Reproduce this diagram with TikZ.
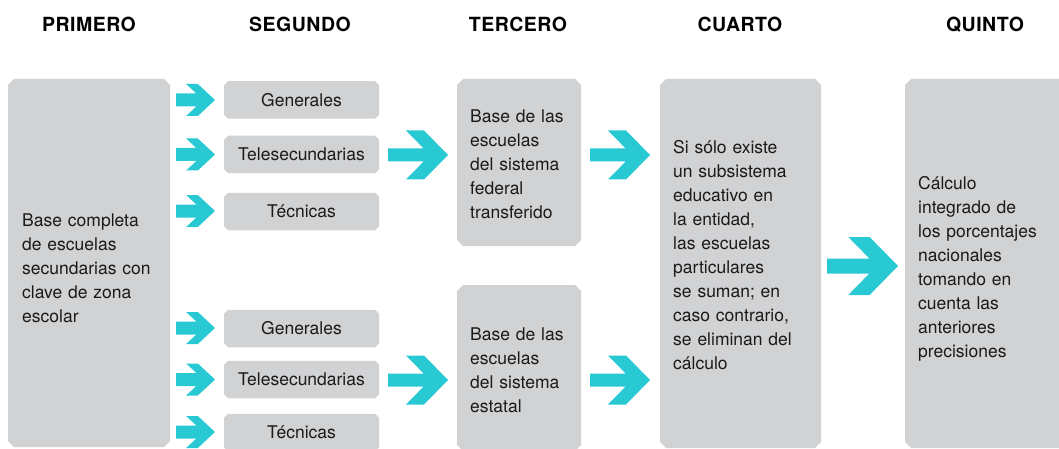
\documentclass[tikz,border=0pt]{standalone}
\usepackage{fontspec}
\setmainfont{TeX Gyre Heros}
\newfontfamily\hdrfont[LetterSpace=2.5]{TeX Gyre Heros}
\definecolor{boxgray}{HTML}{D1D2D4}
\definecolor{arrowc}{HTML}{28C9D3}
\definecolor{txt}{HTML}{1A1A1A}
\tikzset{
  chamf/.style={rectangle, draw=none, inner sep=0pt, outer sep=0pt,
    path picture={
      \fill[boxgray]
        ([xshift=#1]path picture bounding box.north west) --
        ([xshift=-#1]path picture bounding box.north east) --
        ([yshift=-#1]path picture bounding box.north east) --
        ([yshift=#1]path picture bounding box.south east) --
        ([xshift=-#1]path picture bounding box.south east) --
        ([xshift=#1]path picture bounding box.south west) --
        ([yshift=#1]path picture bounding box.south west) --
        ([yshift=-#1]path picture bounding box.north west) -- cycle;}},
  gbox/.style={chamf=6pt},
  sbox/.style={chamf=4pt,
    minimum width=155pt, minimum height=37.5pt, text=txt,
    font=\fontsize{17.5}{24}\selectfont, text height=12.6pt, text depth=0pt},
  btxt/.style={anchor=base west, inner sep=0pt, text width=150pt, align=left, text=txt,
    font=\fontsize{17.5}{24}\selectfont},
  hdr/.style={anchor=base, inner sep=0pt, text=black, font=\hdrfont\bfseries\fontsize{19.5}{22}\selectfont},
  arrowfill/.style={fill=arrowc}
}
% #1 x0, #2 yc, #3 w, #4 h, #5 tail half height, #6 outer top frac, #7 inner top frac
\newcommand{\chevarrow}[7]{%
  \pgfmathsetmacro\cxa{#1}%
  \pgfmathsetmacro\cxb{#1+#7*#3}%
  \pgfmathsetmacro\cxc{#1+#6*#3}%
  \pgfmathsetmacro\cxd{#1+#3}%
  \pgfmathsetmacro\cxi{#1+#7*#3+(1-2*#5/#4)*(1-#6)*#3}%
  \pgfmathsetmacro\cyt{#2-#4/2}%
  \pgfmathsetmacro\cyb{#2+#4/2}%
  \pgfmathsetmacro\cyu{#2-#5}%
  \pgfmathsetmacro\cyl{#2+#5}%
  \fill[arrowfill] (\cxa,\cyu) -- (\cxi,\cyu) -- (\cxb,\cyt) -- (\cxc,\cyt) -- (\cxd,#2)
    -- (\cxc,\cyb) -- (\cxb,\cyb) -- (\cxi,\cyl) -- (\cxa,\cyl) -- cycle;}
\begin{document}
\begin{tikzpicture}[x=1pt,y=-1pt]
\useasboundingbox (0,0) rectangle (1059,449);
\clip (0,0) rectangle (1059,449);
% headers
\node[hdr] (h1) at (89,31.7) {PRIMERO};
\node[hdr] (h2) at (300,31.7) {SEGUNDO};
\node[hdr] (h3) at (518,31.7) {TERCERO};
\node[hdr] (h4) at (740,31.7) {CUARTO};
\node[hdr] (h5) at (985,31.7) {QUINTO};
% big boxes
\node[gbox, minimum width=162pt, minimum height=368pt] (p) at (89,263) {};
\node[gbox, minimum width=124pt, minimum height=167pt] (t1) at (519,162.5) {};
\node[gbox, minimum width=124pt, minimum height=166pt] (t2) at (519,368) {};
\node[gbox, minimum width=161pt, minimum height=369pt] (c) at (740.5,263.5) {};
\node[gbox, minimum width=160pt, minimum height=369pt] (q) at (985,263.5) {};
% small boxes
\node[sbox] (s1) at (301.5,100) {Generales};
\node[sbox] (s2) at (301.5,154.5) {Telesecundarias};
\node[sbox] (s3) at (301.5,211.5) {Técnicas};
\node[sbox] (s4) at (301.5,328.5) {Generales};
\node[sbox] (s5) at (301.5,379.5) {Telesecundarias};
\node[sbox] (s6) at (301.5,432.5) {Técnicas};
% texts
\node[btxt] (ptx) at (22,226) {Base completa\\de escuelas\\secundarias con\\clave de zona\\escolar};
\node[btxt] (t1x) at (470,123) {Base de las\\escuelas\\del sistema\\federal\\transferido};
\node[btxt] (t2x) at (470,340) {Base de las\\escuelas\\del sistema\\estatal};
\node[btxt] (cx) at (673,153.3) {Si sólo existe\\un subsistema\\educativo en\\la entidad,\\las escuelas\\particulares\\se suman; en\\caso contrario,\\se eliminan del\\cálculo};
\node[btxt] (qx) at (918,189.3) {Cálculo\\integrado de\\los porcentajes\\nacionales\\tomando en\\cuenta las\\anteriores\\precisiones};
% small arrows
\chevarrow{176}{100}{39}{32}{6.5}{0.56}{0.26}
\chevarrow{176}{154.5}{39}{32}{6.5}{0.56}{0.26}
\chevarrow{176}{211}{39}{32}{6.5}{0.56}{0.26}
\chevarrow{176}{328}{39}{32}{6.5}{0.56}{0.26}
\chevarrow{176}{379.5}{39}{32}{6.5}{0.56}{0.26}
\chevarrow{176}{432}{39}{32}{6.5}{0.56}{0.26}
% big arrows
\chevarrow{388}{155}{60}{49}{6.5}{0.6}{0.3}
\chevarrow{388}{380}{60}{49}{6.5}{0.6}{0.3}
\chevarrow{590}{155}{60}{49}{6.5}{0.6}{0.3}
\chevarrow{590}{380}{60}{49}{6.5}{0.6}{0.3}
\chevarrow{827}{266}{71}{58}{7.5}{0.6}{0.3}
\end{tikzpicture}
\end{document}
